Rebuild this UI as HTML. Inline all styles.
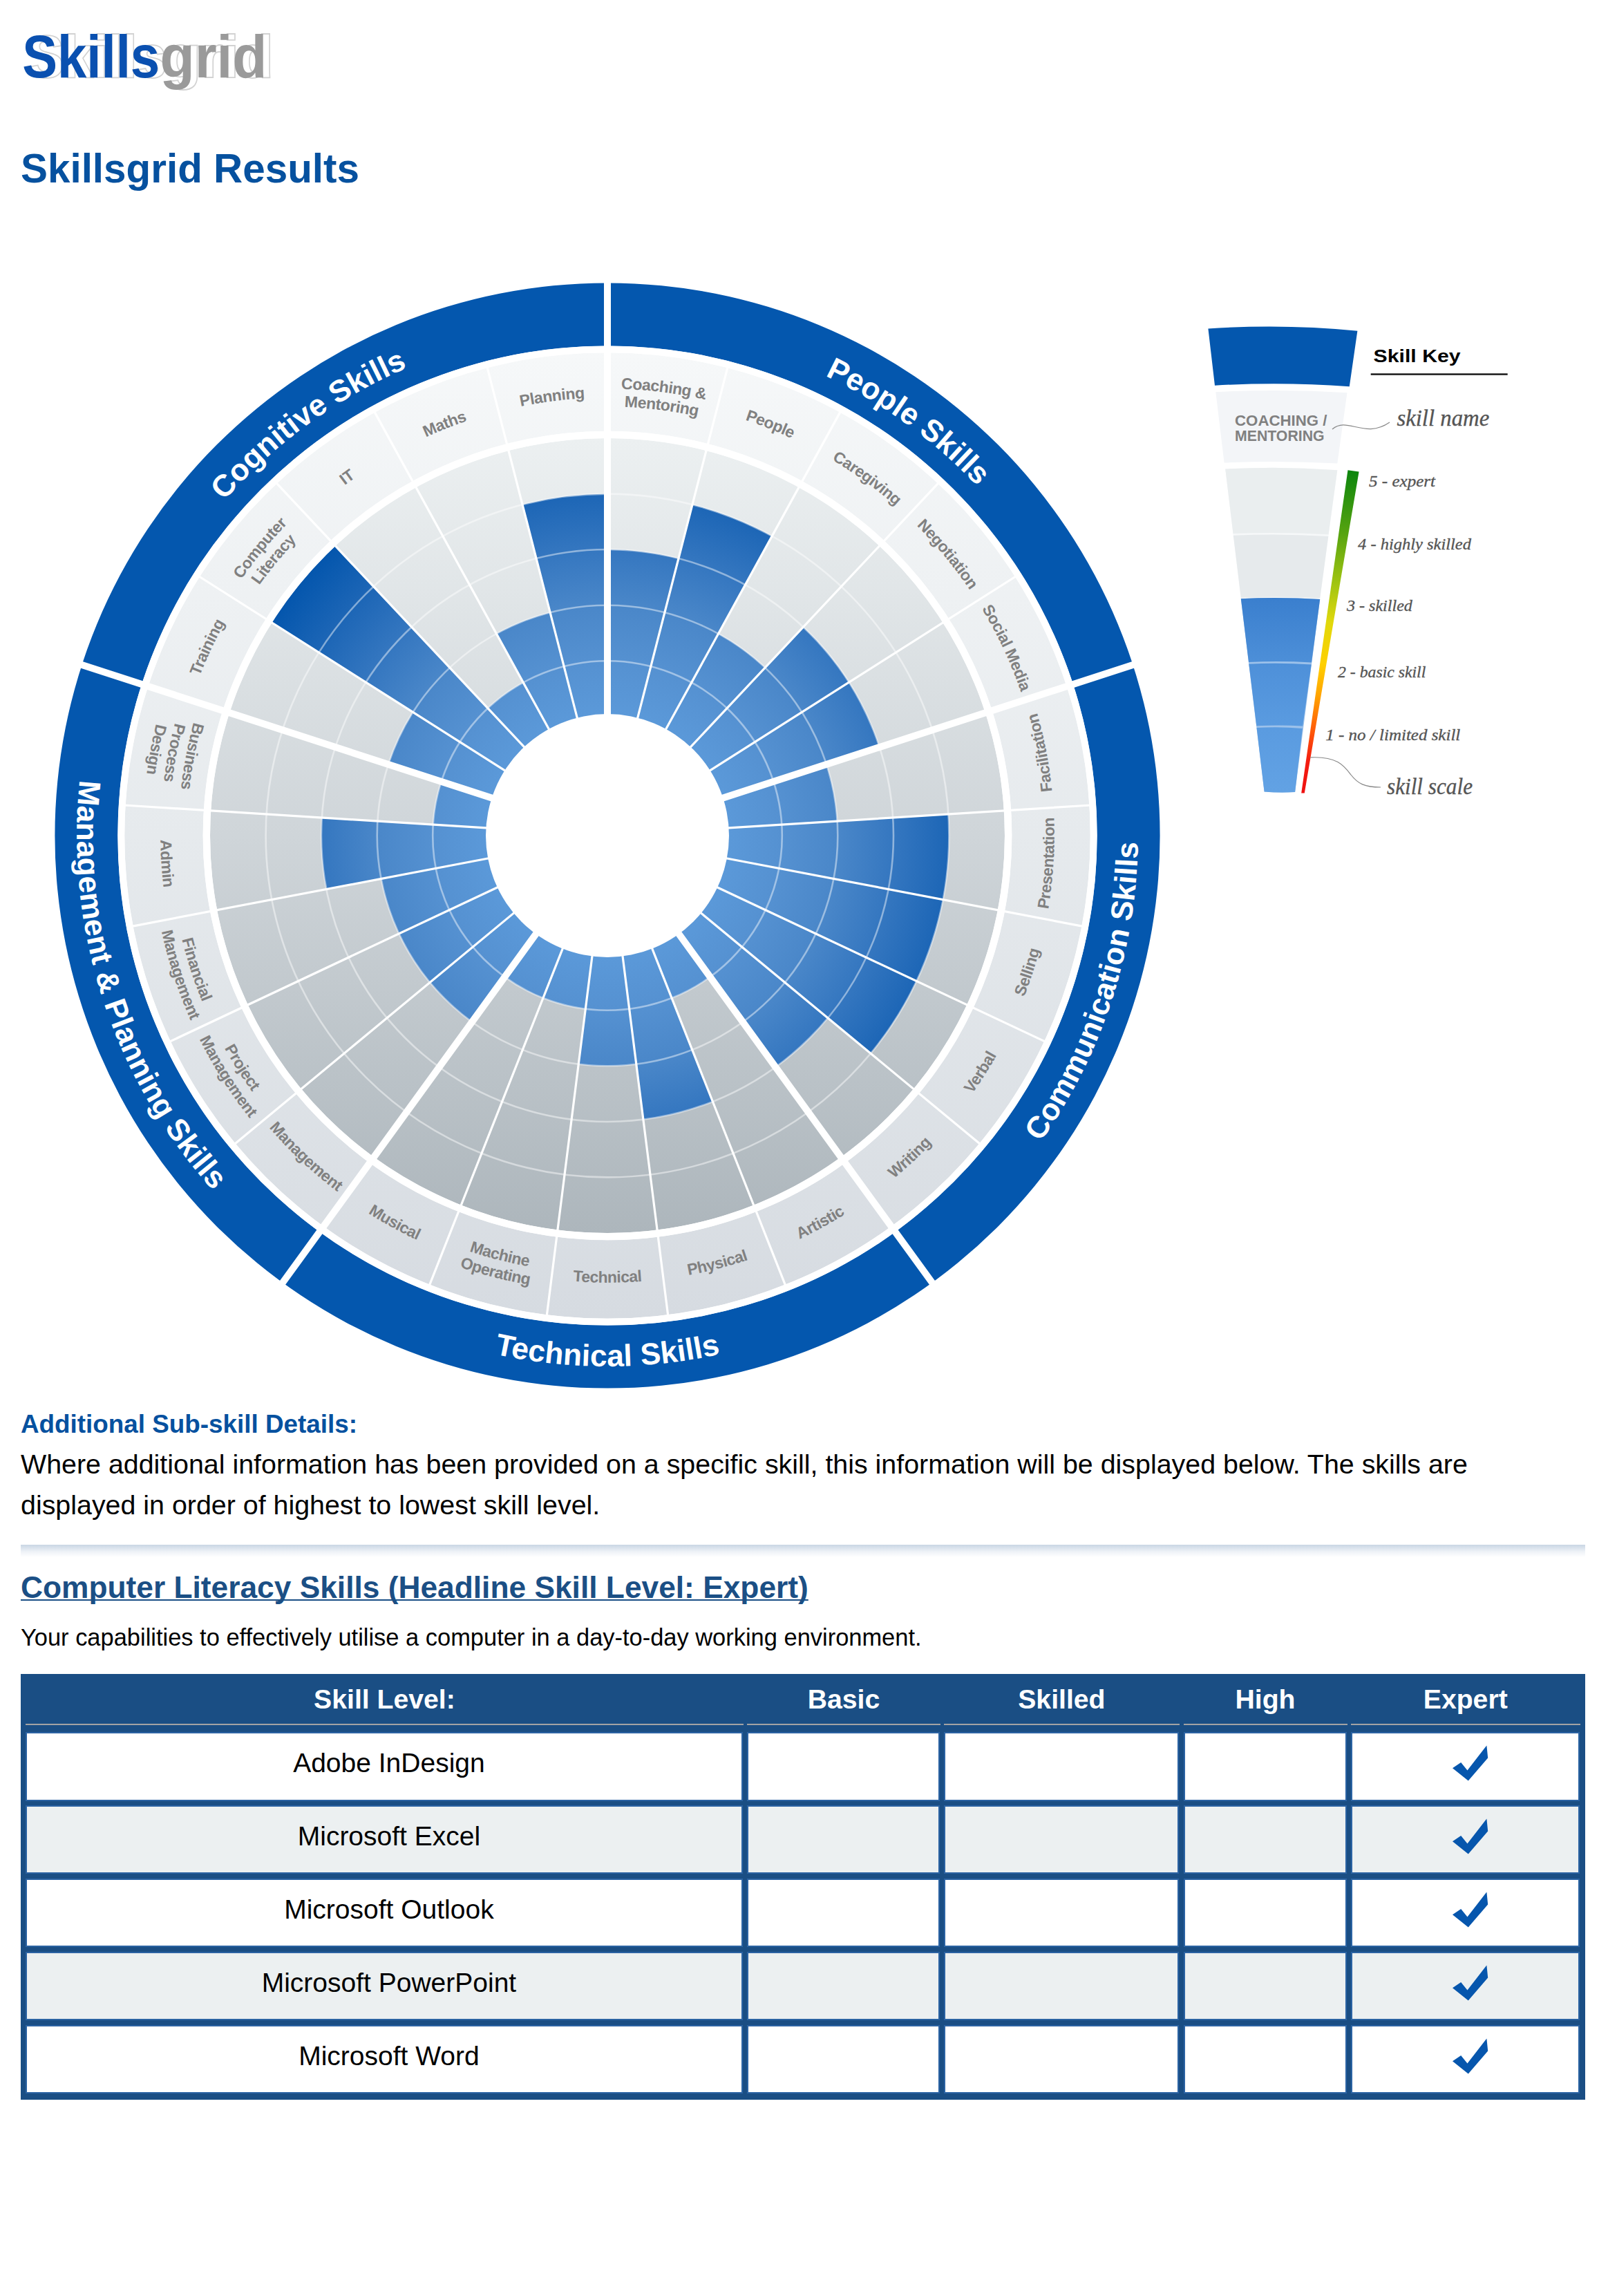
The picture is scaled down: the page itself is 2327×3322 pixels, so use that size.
<!DOCTYPE html>
<html><head><meta charset="utf-8"><title>Skillsgrid Results</title>
<style>
html,body{margin:0;padding:0;background:#fff}
body{font-variant-ligatures:none;width:2327px;height:3322px;position:relative;overflow:hidden;font-family:"Liberation Sans", sans-serif;color:#000}
.abs{position:absolute;white-space:nowrap}
svg text{font-family:"Liberation Sans", sans-serif}
.tt{font-size:44.2px;font-weight:bold;fill:#fff;letter-spacing:0.1px}
.lb{font-size:23px;font-weight:bold;fill:#808080;letter-spacing:-0.5px}
.th{position:absolute;top:2429px;height:64.5px;border-bottom:2.6px solid #a3a3a3;color:#fff;font-weight:bold;font-size:39.2px;line-height:59px;text-align:center;white-space:nowrap}
.td{position:absolute;height:95.5px;border:2.5px solid #2b63a3;font-size:39px;line-height:86px;text-align:center;white-space:nowrap}
</style></head><body>
<svg class="abs" style="left:0;top:0" width="2327" height="2040" viewBox="0 0 2327 2040">
<defs>
<linearGradient id="gGrey" gradientUnits="userSpaceOnUse" x1="0" y1="634" x2="0" y2="1783">
<stop offset="0" stop-color="#ecf0f1"/><stop offset="0.5" stop-color="#cfd5d9"/><stop offset="1" stop-color="#adb6bc"/></linearGradient>
<linearGradient id="gLab" gradientUnits="userSpaceOnUse" x1="0" y1="510" x2="0" y2="1907">
<stop offset="0" stop-color="#f6f8f9"/><stop offset="0.5" stop-color="#e6eaed"/><stop offset="1" stop-color="#d6dbe1"/></linearGradient>
<radialGradient id="gBlue" gradientUnits="userSpaceOnUse" cx="879" cy="1209" r="575">
<stop offset="0.304" stop-color="#5b99d9"/><stop offset="0.44" stop-color="#5591d1"/><stop offset="0.579" stop-color="#4a87c9"/><stop offset="0.718" stop-color="#3577c0"/><stop offset="0.859" stop-color="#1d66b6"/><stop offset="1" stop-color="#0456ad"/></radialGradient>
<linearGradient id="gK3" x1="0" y1="0" x2="0" y2="1"><stop offset="0" stop-color="#3a7fce"/><stop offset="1" stop-color="#4d8fd8"/></linearGradient>
<linearGradient id="gK2" x1="0" y1="0" x2="0" y2="1"><stop offset="0" stop-color="#4e90d9"/><stop offset="1" stop-color="#5a9be0"/></linearGradient>
<linearGradient id="gK1" x1="0" y1="0" x2="0" y2="1"><stop offset="0" stop-color="#5a9be0"/><stop offset="1" stop-color="#62a2e4"/></linearGradient>
<linearGradient id="gScale" gradientUnits="userSpaceOnUse" x1="0" y1="680" x2="0" y2="1148">
<stop offset="0" stop-color="#0b850d"/><stop offset="0.2" stop-color="#58a410"/><stop offset="0.36" stop-color="#a5c612"/><stop offset="0.47" stop-color="#e0d80c"/><stop offset="0.6" stop-color="#ffd000"/><stop offset="0.7" stop-color="#ffa200"/><stop offset="0.8" stop-color="#ff5e08"/><stop offset="0.9" stop-color="#f41c10"/><stop offset="1" stop-color="#ee1010"/></linearGradient>
<path id="p1" d="M579.56 536.45A736.2 736.2 0 0 1 1611.17 1285.95"/>
<path id="p2" d="M824.9 564.72A646.55 646.55 0 0 1 1091.63 598.41"/>
<path id="p3" d="M827.07 590.63A620.55 620.55 0 0 1 1083.08 622.97"/>
<path id="p4" d="M984.66 584.32A633.55 633.55 0 0 1 1229.6 681.3"/>
<path id="p5" d="M1136.69 630.22A633.55 633.55 0 0 1 1349.82 785.07"/>
<path id="p6" d="M1272.53 712.49A633.55 633.55 0 0 1 1440.45 915.48"/>
<path id="p7" d="M1383.64 825.96A633.55 633.55 0 0 1 1495.81 1064.33"/>
<path id="p8" d="M1038.63 1960.02A767.8 767.8 0 0 0 1449.59 695.24"/>
<path id="p9" d="M1525.61 1222.54A646.75 646.75 0 0 0 1475.21 958.37"/>
<path id="p10" d="M1501.93 1382.92A646.75 646.75 0 0 0 1518.81 1114.52"/>
<path id="p11" d="M1439.1 1532.37A646.75 646.75 0 0 0 1522.21 1276.6"/>
<path id="p12" d="M1341.09 1661.51A646.75 646.75 0 0 0 1485.19 1434.44"/>
<path id="p13" d="M1214.03 1762.21A646.75 646.75 0 0 0 1410.08 1578.11"/>
<path id="p14" d="M214.07 1592.9A767.8 767.8 0 0 0 1543.93 1592.9"/>
<path id="p15" d="M1065.93 1828.15A646.75 646.75 0 0 0 1301.6 1698.59"/>
<path id="p16" d="M906.08 1855.18A646.75 646.75 0 0 0 1166.57 1788.3"/>
<path id="p17" d="M744.53 1841.62A646.75 646.75 0 0 0 1013.47 1841.62"/>
<path id="p18" d="M597.21 1776.66A633.75 633.75 0 0 0 852.46 1842.19"/>
<path id="p19" d="M585.65 1799.95A659.75 659.75 0 0 0 851.37 1868.17"/>
<path id="p20" d="M456.4 1698.59A646.75 646.75 0 0 0 692.07 1828.15"/>
<path id="p21" d="M308.41 695.24A767.8 767.8 0 0 0 719.37 1960.02"/>
<path id="p22" d="M347.92 1578.11A646.75 646.75 0 0 0 543.97 1762.21"/>
<path id="p23" d="M285 1429.91A633.75 633.75 0 0 0 426.2 1652.41"/>
<path id="p24" d="M260.63 1438.97A659.75 659.75 0 0 0 407.63 1670.6"/>
<path id="p25" d="M248.72 1275.24A633.75 633.75 0 0 0 330.16 1525.88"/>
<path id="p26" d="M222.86 1277.96A659.75 659.75 0 0 0 307.64 1538.88"/>
<path id="p27" d="M239.19 1114.52A646.75 646.75 0 0 0 256.07 1382.92"/>
<path id="p28" d="M306.75 968.45A620.75 620.75 0 0 0 258.39 1222"/>
<path id="p29" d="M282.79 958.37A646.75 646.75 0 0 0 232.39 1222.54"/>
<path id="p30" d="M258.82 948.3A672.75 672.75 0 0 0 206.4 1223.09"/>
<path id="p31" d="M146.83 1285.95A736.2 736.2 0 0 1 1178.44 536.45"/>
<path id="p32" d="M262.19 1064.33A633.55 633.55 0 0 1 374.36 825.96"/>
<path id="p33" d="M306.03 909.46A646.55 646.55 0 0 1 477.4 702.3"/>
<path id="p34" d="M329.07 921.5A620.55 620.55 0 0 1 493.55 722.68"/>
<path id="p35" d="M408.18 785.07A633.55 633.55 0 0 1 621.31 630.22"/>
<path id="p36" d="M528.4 681.3A633.55 633.55 0 0 1 773.34 584.32"/>
<path id="p37" d="M670.65 610.69A633.55 633.55 0 0 1 932.01 577.67"/>
</defs>
<path d="M879 409.4A799.6 799.6 0 1 1 879 2008.6A799.6 799.6 0 1 1 879 409.4ZM879 500.4A708.6 708.6 0 1 0 879 1917.6A708.6 708.6 0 1 0 879 500.4Z" fill="#0457ae"/>
<path d="M879 510.2A698.8 698.8 0 1 1 879 1907.8A698.8 698.8 0 1 1 879 510.2ZM879 623.8A585.2 585.2 0 1 0 879 1794.2A585.2 585.2 0 1 0 879 623.8Z" fill="url(#gLab)"/>
<path d="M879 634A575 575 0 1 1 879 1784A575 575 0 1 1 879 634ZM879 1033A176 176 0 1 0 879 1385A176 176 0 1 0 879 1033Z" fill="url(#gGrey)"/>
<path d="M879 795A414 414 0 0 1 981.96 808.01L922.27 1040.47A174 174 0 0 0 879 1035ZM1001.95 730.13A494.4 494.4 0 0 1 1117.18 775.75L962.83 1056.52A174 174 0 0 0 922.27 1040.47ZM1039.57 916.93A333.3 333.3 0 0 1 1107.16 966.03L998.11 1082.16A174 174 0 0 0 962.83 1056.52ZM1162.4 907.21A414 414 0 0 1 1228.55 987.17L1025.91 1115.77A174 174 0 0 0 998.11 1082.16ZM1228.55 987.17A414 414 0 0 1 1272.74 1081.07L1044.48 1155.23A174 174 0 0 0 1025.91 1115.77ZM1195.99 1106A333.3 333.3 0 0 1 1211.64 1188.07L1052.66 1198.07A174 174 0 0 0 1044.48 1155.23ZM1372.42 1177.96A494.4 494.4 0 0 1 1364.64 1301.64L1049.92 1241.6A174 174 0 0 0 1052.66 1198.07ZM1364.64 1301.64A494.4 494.4 0 0 1 1326.35 1419.51L1036.44 1283.09A174 174 0 0 0 1049.92 1241.6ZM1326.35 1419.51A494.4 494.4 0 0 1 1259.94 1524.14L1013.07 1319.91A174 174 0 0 0 1036.44 1283.09ZM1197.99 1472.89A414 414 0 0 1 1122.34 1543.93L981.27 1349.77A174 174 0 0 0 1013.07 1319.91ZM1027.59 1413.52A252.8 252.8 0 0 1 972.06 1444.05L943.05 1370.78A174 174 0 0 0 981.27 1349.77ZM1031.4 1593.93A414 414 0 0 1 930.89 1619.74L900.81 1381.63A174 174 0 0 0 943.05 1370.78ZM920.77 1539.67A333.3 333.3 0 0 1 837.23 1539.67L857.19 1381.63A174 174 0 0 0 900.81 1381.63ZM847.32 1459.81A252.8 252.8 0 0 1 785.94 1444.05L814.95 1370.78A174 174 0 0 0 857.19 1381.63ZM785.94 1444.05A252.8 252.8 0 0 1 730.41 1413.52L776.73 1349.77A174 174 0 0 0 814.95 1370.78ZM683.09 1478.65A333.3 333.3 0 0 1 622.19 1421.45L744.93 1319.91A174 174 0 0 0 776.73 1349.77ZM622.19 1421.45A333.3 333.3 0 0 1 577.42 1350.91L721.56 1283.09A174 174 0 0 0 744.93 1319.91ZM577.42 1350.91A333.3 333.3 0 0 1 551.6 1271.45L708.08 1241.6A174 174 0 0 0 721.56 1283.09ZM472.33 1286.58A414 414 0 0 1 465.82 1183L705.34 1198.07A174 174 0 0 0 708.08 1241.6ZM626.7 1193.13A252.8 252.8 0 0 1 638.57 1130.88L713.52 1155.23A174 174 0 0 0 705.34 1198.07ZM562.01 1106A333.3 333.3 0 0 1 597.59 1030.41L732.09 1115.77A174 174 0 0 0 713.52 1155.23ZM393.51 900.9A575 575 0 0 1 485.39 789.84L759.89 1082.16A174 174 0 0 0 732.09 1115.77ZM705.95 1024.72A252.8 252.8 0 0 1 757.21 987.47L795.17 1056.52A174 174 0 0 0 759.89 1082.16ZM718.43 916.93A333.3 333.3 0 0 1 796.11 886.17L835.73 1040.47A174 174 0 0 0 795.17 1056.52ZM756.05 730.13A494.4 494.4 0 0 1 879 714.6L879 1035A174 174 0 0 0 835.73 1040.47Z" fill="url(#gBlue)"/>
<circle cx="879" cy="1209" r="252.8" fill="none" stroke="#fff" stroke-opacity="0.45" stroke-width="2.6"/>
<circle cx="879" cy="1209" r="333.3" fill="none" stroke="#fff" stroke-opacity="0.45" stroke-width="2.6"/>
<circle cx="879" cy="1209" r="414" fill="none" stroke="#fff" stroke-opacity="0.45" stroke-width="2.6"/>
<circle cx="879" cy="1209" r="494.4" fill="none" stroke="#fff" stroke-opacity="0.45" stroke-width="2.6"/>
<path d="M921.77 1042.4L1053.28 530.22M961.86 1058.28L1216.61 594.88M996.74 1083.62L1358.73 698.14M1024.22 1116.84L1470.71 833.49M1050.66 1198.2L1578.42 1165M1047.95 1241.23L1567.39 1340.32M1034.63 1282.23L1513.1 1507.39M1011.53 1318.64L1418.98 1655.71M942.32 1368.92L1136.98 1860.59M900.56 1379.64L966.83 1904.27M857.44 1379.64L791.17 1904.27M815.68 1368.92L621.02 1860.59M746.47 1318.64L339.02 1655.71M723.37 1282.23L244.9 1507.39M710.05 1241.23L190.61 1340.32M707.34 1198.2L179.58 1165M733.78 1116.84L287.29 833.49M761.26 1083.62L399.27 698.14M796.14 1058.28L541.39 594.88M836.23 1042.4L704.72 530.22" stroke="#fff" stroke-width="3.2" fill="none"/>
<path d="M879 1037L879 405.4M1042.58 1155.85L1643.27 960.67M980.1 1348.15L1351.34 1859.13M777.9 1348.15L406.66 1859.13M715.42 1155.85L114.73 960.67" stroke="#fff" stroke-width="10" fill="none"/>
<circle cx="879" cy="1209" r="580.1" fill="none" stroke="#fff" stroke-width="10.2"/>
<circle cx="879" cy="1209" r="703.7" fill="none" stroke="#fff" stroke-width="9.8"/>
<circle cx="879" cy="1209" r="176" fill="#fff"/>
<text class="tt"><textPath href="#p1" startOffset="50%" text-anchor="middle">People Skills</textPath></text>
<text class="lb"><textPath href="#p2" startOffset="50%" text-anchor="middle">Coaching &amp;</textPath></text>
<text class="lb"><textPath href="#p3" startOffset="50%" text-anchor="middle">Mentoring</textPath></text>
<text class="lb"><textPath href="#p4" startOffset="50%" text-anchor="middle">People</textPath></text>
<text class="lb"><textPath href="#p5" startOffset="50%" text-anchor="middle">Caregiving</textPath></text>
<text class="lb"><textPath href="#p6" startOffset="50%" text-anchor="middle">Negotiation</textPath></text>
<text class="lb"><textPath href="#p7" startOffset="50%" text-anchor="middle">Social Media</textPath></text>
<text class="tt"><textPath href="#p8" startOffset="50%" text-anchor="middle">Communication Skills</textPath></text>
<text class="lb"><textPath href="#p9" startOffset="50%" text-anchor="middle">Facilitation</textPath></text>
<text class="lb"><textPath href="#p10" startOffset="50%" text-anchor="middle">Presentation</textPath></text>
<text class="lb"><textPath href="#p11" startOffset="50%" text-anchor="middle">Selling</textPath></text>
<text class="lb"><textPath href="#p12" startOffset="50%" text-anchor="middle">Verbal</textPath></text>
<text class="lb"><textPath href="#p13" startOffset="50%" text-anchor="middle">Writing</textPath></text>
<text class="tt"><textPath href="#p14" startOffset="50%" text-anchor="middle">Technical Skills</textPath></text>
<text class="lb"><textPath href="#p15" startOffset="50%" text-anchor="middle">Artistic</textPath></text>
<text class="lb"><textPath href="#p16" startOffset="50%" text-anchor="middle">Physical</textPath></text>
<text class="lb"><textPath href="#p17" startOffset="50%" text-anchor="middle">Technical</textPath></text>
<text class="lb"><textPath href="#p18" startOffset="50%" text-anchor="middle">Machine</textPath></text>
<text class="lb"><textPath href="#p19" startOffset="50%" text-anchor="middle">Operating</textPath></text>
<text class="lb"><textPath href="#p20" startOffset="50%" text-anchor="middle">Musical</textPath></text>
<text class="tt"><textPath href="#p21" startOffset="50%" text-anchor="middle">Management &amp; Planning Skills</textPath></text>
<text class="lb"><textPath href="#p22" startOffset="50%" text-anchor="middle">Management</textPath></text>
<text class="lb"><textPath href="#p23" startOffset="50%" text-anchor="middle">Project</textPath></text>
<text class="lb"><textPath href="#p24" startOffset="50%" text-anchor="middle">Management</textPath></text>
<text class="lb"><textPath href="#p25" startOffset="50%" text-anchor="middle">Financial</textPath></text>
<text class="lb"><textPath href="#p26" startOffset="50%" text-anchor="middle">Management</textPath></text>
<text class="lb"><textPath href="#p27" startOffset="50%" text-anchor="middle">Admin</textPath></text>
<text class="lb"><textPath href="#p28" startOffset="50%" text-anchor="middle">Business</textPath></text>
<text class="lb"><textPath href="#p29" startOffset="50%" text-anchor="middle">Process</textPath></text>
<text class="lb"><textPath href="#p30" startOffset="50%" text-anchor="middle">Design</textPath></text>
<text class="tt"><textPath href="#p31" startOffset="50%" text-anchor="middle">Cognitive Skills</textPath></text>
<text class="lb"><textPath href="#p32" startOffset="50%" text-anchor="middle">Training</textPath></text>
<text class="lb"><textPath href="#p33" startOffset="50%" text-anchor="middle">Computer</textPath></text>
<text class="lb"><textPath href="#p34" startOffset="50%" text-anchor="middle">Literacy</textPath></text>
<text class="lb"><textPath href="#p35" startOffset="50%" text-anchor="middle">IT</textPath></text>
<text class="lb"><textPath href="#p36" startOffset="50%" text-anchor="middle">Maths</textPath></text>
<text class="lb"><textPath href="#p37" startOffset="50%" text-anchor="middle">Planning</textPath></text>
<path d="M1748.4 475.5Q1856 468 1964.4 478.7L1952.8 559.3Q1856 552 1758 557.7Z" fill="#0457ae"/>
<path d="M1759.3 567.3Q1855 562 1949.5 568.3L1935.3 670.5Q1853 666 1771.6 669.5Z" fill="#f3f5f8"/>
<path d="M1773.2 678.6Q1854 674 1935.3 680.2L1910.2 866.5L1795.8 866Z" fill="#f6f8f9"/>
<path d="M1795.8 866.2Q1853 863.5 1910.2 867.1L1874.1 1146L1829.6 1145.4Z" fill="#9cc1ea"/>
<path d="M1773.2 678.6Q1854 674 1935.3 680.2L1922.5 773.2Q1853 769.5 1784.5 772Z" fill="#eaeeef"/>
<path d="M1784.8 774.8Q1853 771.5 1922.3 776L1910.2 865.5Q1853 862.5 1795.8 864.9Z" fill="#e6eaec"/>
<path d="M1795.8 866.2Q1853 863.5 1910.2 867.1L1898 958.5Q1852 956 1807 958Z" fill="url(#gK3)"/>
<path d="M1807.3 960.8Q1852 958.5 1897.7 961.6L1885.2 1050.5Q1852 1048.5 1818.3 1050.3Z" fill="url(#gK2)"/>
<path d="M1818.6 1053.1Q1852 1051 1884.9 1054.1L1874.1 1146Q1852 1147.5 1829.6 1145.4Z" fill="url(#gK1)"/>
<polygon points="1950.5,680.2 1966.6,682.4 1887.8,1147.6 1883.2,1147.6" fill="url(#gScale)"/>
<rect x="1983.7" y="540.3" width="198" height="2.4" fill="#111"/>
<path d="M1928 621C1950 602 1975 636 2011 611" fill="none" stroke="#888" stroke-width="1.2"/>
<path d="M1896.2 1095.9C1935 1094 1945 1108 1955 1121S1975 1139 1998 1139" fill="none" stroke="#888" stroke-width="1.2"/>
<text x="1987.6" y="523.5" font-family='"Liberation Sans", sans-serif' font-weight="bold" font-size="25" fill="#000" textLength="126" lengthAdjust="spacingAndGlyphs">Skill Key</text>
<text x="1787" y="615.7" font-family='"Liberation Sans", sans-serif' font-weight="bold" font-size="21.5" fill="#808080" textLength="133.5" lengthAdjust="spacingAndGlyphs">COACHING /</text>
<text x="1787" y="637.6" font-family='"Liberation Sans", sans-serif' font-weight="bold" font-size="21.5" fill="#808080" textLength="129.6" lengthAdjust="spacingAndGlyphs">MENTORING</text>
<text x="2021.4" y="615.7" style="font-family:'Liberation Serif',serif;font-style:italic;font-size:34px" fill="#555" stroke="#555" stroke-width="0.35" textLength="134" lengthAdjust="spacingAndGlyphs">skill name</text>
<text x="1981" y="703.7" style="font-family:'Liberation Serif',serif;font-style:italic;font-size:23.5px" fill="#555" stroke="#555" stroke-width="0.35" textLength="96" lengthAdjust="spacingAndGlyphs">5 - expert</text>
<text x="1965" y="794.6" style="font-family:'Liberation Serif',serif;font-style:italic;font-size:23.5px" fill="#555" stroke="#555" stroke-width="0.35" textLength="164" lengthAdjust="spacingAndGlyphs">4 - highly skilled</text>
<text x="1948.9" y="884.2" style="font-family:'Liberation Serif',serif;font-style:italic;font-size:23.5px" fill="#555" stroke="#555" stroke-width="0.35" textLength="95" lengthAdjust="spacingAndGlyphs">3 - skilled</text>
<text x="1936" y="980" style="font-family:'Liberation Serif',serif;font-style:italic;font-size:23.5px" fill="#555" stroke="#555" stroke-width="0.35" textLength="127.3" lengthAdjust="spacingAndGlyphs">2 - basic skill</text>
<text x="1918.3" y="1071.2" style="font-family:'Liberation Serif',serif;font-style:italic;font-size:23.5px" fill="#555" stroke="#555" stroke-width="0.35" textLength="195" lengthAdjust="spacingAndGlyphs">1 - no / limited skill</text>
<text x="2007" y="1149.2" style="font-family:'Liberation Serif',serif;font-style:italic;font-size:34px" fill="#555" stroke="#555" stroke-width="0.35" textLength="124" lengthAdjust="spacingAndGlyphs">skill scale</text>
</svg>
<svg class="abs" style="left:20px;top:30px" width="400" height="120" viewBox="20 30 400 120">
<g font-family='"Liberation Sans", sans-serif' font-weight="bold" font-size="88">
<g fill="#fff" stroke="#d2d2d2" stroke-width="1.8"><text x="42" y="111.6" textLength="199" lengthAdjust="spacingAndGlyphs">Skills</text><text x="241" y="111.6" textLength="155" lengthAdjust="spacingAndGlyphs">grid</text></g>
<text x="32.2" y="111.6" textLength="199" lengthAdjust="spacingAndGlyphs" fill="#0a50b0">Skills</text>
<text x="231.5" y="111.6" textLength="155" lengthAdjust="spacingAndGlyphs" fill="#9a9a9a">grid</text>
</g></svg>
<div class="abs" style="left:30px;top:211px;font-size:58.4px;line-height:66px;font-weight:bold;color:#06519f">Skillsgrid Results</div>
<div class="abs" style="left:30px;top:2040px;font-size:36.84px;line-height:42px;font-weight:bold;color:#06519f">Additional Sub-skill Details:</div>
<div class="abs" style="left:30px;top:2088.9px;font-size:39.38px;line-height:59.4px">Where additional information has been provided on a specific skill, this information will be displayed below. The skills are<br>displayed in order of highest to lowest skill level.</div>
<div class="abs" style="left:30px;top:2235px;width:2264px;height:18px;background:linear-gradient(#c9d6e4,#d9e2ec 25%,#eef2f7 55%,#fff)"></div>
<div class="abs" style="left:30px;top:2271.75px;font-size:44.3px;line-height:50px;font-weight:bold;color:#1b4f85;text-decoration:underline;text-decoration-thickness:2.4px;text-underline-offset:2.2px;text-decoration-skip-ink:none">Computer Literacy Skills (Headline Skill Level: Expert)</div>
<div class="abs" style="left:30px;top:2348.6px;font-size:34.45px;line-height:40px">Your capabilities to effectively utilise a computer in a day-to-day working environment.</div>
<div style="position:absolute;left:30px;top:2422px;width:2264px;height:615.5px;background:#1a4e84"></div>
<div class="th" style="left:37.3px;width:1038.3px">Skill Level:</div>
<div class="th" style="left:1080.5px;width:280.9px">Basic</div>
<div class="th" style="left:1366.1px;width:340.6px">Skilled</div>
<div class="th" style="left:1712.5px;width:237px">High</div>
<div class="th" style="left:1954.6px;width:332.3px">Expert</div>
<div class="td" style="left:37.3px;top:2506px;width:1033.3px;background:#fff"><span style="position:relative;left:7px">Adobe InDesign</span></div>
<div class="td" style="left:1080.5px;top:2506px;width:275.9px;background:#fff"></div>
<div class="td" style="left:1366.1px;top:2506px;width:335.6px;background:#fff"></div>
<div class="td" style="left:1712.5px;top:2506px;width:232px;background:#fff"></div>
<div class="td" style="left:1954.6px;top:2506px;width:327.3px;background:#fff"></div>
<svg style="position:absolute;left:2102.3px;top:2525px" width="53" height="53" viewBox="0 0 53 53"><polygon points="0,33.2 12.2,25 21.5,36.4 49.4,0.5 51.2,18.6 22.8,51.5" fill="#0656ad"/></svg>
<div class="td" style="left:37.3px;top:2611.9px;width:1033.3px;background:#ecf0f1"><span style="position:relative;left:7px">Microsoft Excel</span></div>
<div class="td" style="left:1080.5px;top:2611.9px;width:275.9px;background:#ecf0f1"></div>
<div class="td" style="left:1366.1px;top:2611.9px;width:335.6px;background:#ecf0f1"></div>
<div class="td" style="left:1712.5px;top:2611.9px;width:232px;background:#ecf0f1"></div>
<div class="td" style="left:1954.6px;top:2611.9px;width:327.3px;background:#ecf0f1"></div>
<svg style="position:absolute;left:2102.3px;top:2630.9px" width="53" height="53" viewBox="0 0 53 53"><polygon points="0,33.2 12.2,25 21.5,36.4 49.4,0.5 51.2,18.6 22.8,51.5" fill="#0656ad"/></svg>
<div class="td" style="left:37.3px;top:2717.8px;width:1033.3px;background:#fff"><span style="position:relative;left:7px">Microsoft Outlook</span></div>
<div class="td" style="left:1080.5px;top:2717.8px;width:275.9px;background:#fff"></div>
<div class="td" style="left:1366.1px;top:2717.8px;width:335.6px;background:#fff"></div>
<div class="td" style="left:1712.5px;top:2717.8px;width:232px;background:#fff"></div>
<div class="td" style="left:1954.6px;top:2717.8px;width:327.3px;background:#fff"></div>
<svg style="position:absolute;left:2102.3px;top:2736.8px" width="53" height="53" viewBox="0 0 53 53"><polygon points="0,33.2 12.2,25 21.5,36.4 49.4,0.5 51.2,18.6 22.8,51.5" fill="#0656ad"/></svg>
<div class="td" style="left:37.3px;top:2823.7px;width:1033.3px;background:#ecf0f1"><span style="position:relative;left:7px">Microsoft PowerPoint</span></div>
<div class="td" style="left:1080.5px;top:2823.7px;width:275.9px;background:#ecf0f1"></div>
<div class="td" style="left:1366.1px;top:2823.7px;width:335.6px;background:#ecf0f1"></div>
<div class="td" style="left:1712.5px;top:2823.7px;width:232px;background:#ecf0f1"></div>
<div class="td" style="left:1954.6px;top:2823.7px;width:327.3px;background:#ecf0f1"></div>
<svg style="position:absolute;left:2102.3px;top:2842.7px" width="53" height="53" viewBox="0 0 53 53"><polygon points="0,33.2 12.2,25 21.5,36.4 49.4,0.5 51.2,18.6 22.8,51.5" fill="#0656ad"/></svg>
<div class="td" style="left:37.3px;top:2929.6px;width:1033.3px;background:#fff"><span style="position:relative;left:7px">Microsoft Word</span></div>
<div class="td" style="left:1080.5px;top:2929.6px;width:275.9px;background:#fff"></div>
<div class="td" style="left:1366.1px;top:2929.6px;width:335.6px;background:#fff"></div>
<div class="td" style="left:1712.5px;top:2929.6px;width:232px;background:#fff"></div>
<div class="td" style="left:1954.6px;top:2929.6px;width:327.3px;background:#fff"></div>
<svg style="position:absolute;left:2102.3px;top:2948.6px" width="53" height="53" viewBox="0 0 53 53"><polygon points="0,33.2 12.2,25 21.5,36.4 49.4,0.5 51.2,18.6 22.8,51.5" fill="#0656ad"/></svg>
</body></html>
